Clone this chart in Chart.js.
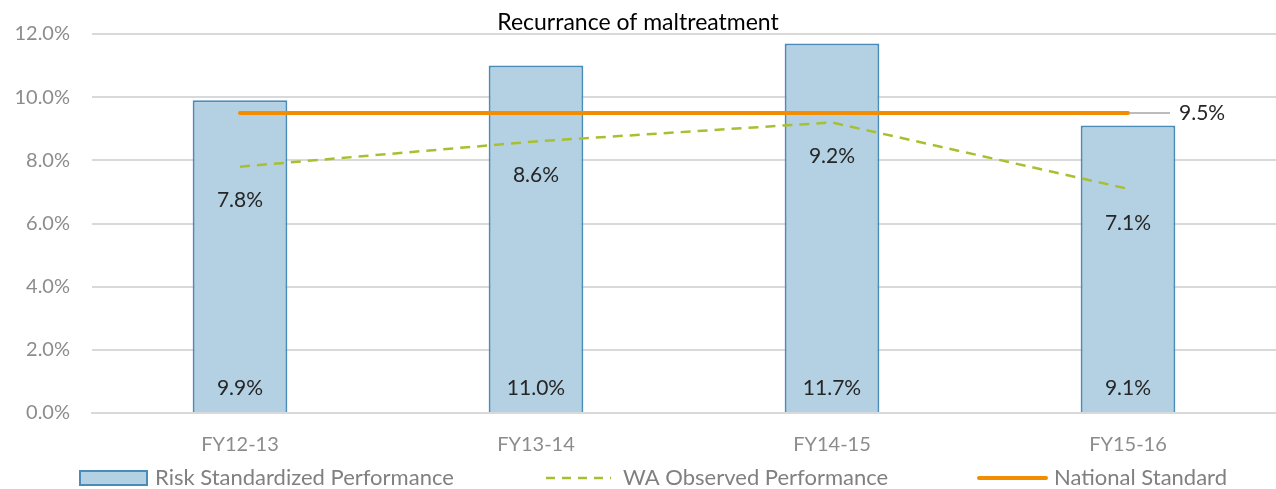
<!DOCTYPE html>
<html>
<head>
<meta charset="utf-8">
<script src="https://cdn.jsdelivr.net/npm/chart.js@4.4.0/dist/chart.umd.min.js"></script>
<style>
    html, body { margin: 0; padding: 0; background: #fff; }
    #wrap { width: 1276px; height: 489px; }
</style>
</head>
<body>
<div id="wrap"><canvas id="maltreatmentChart"></canvas></div>
<script>
const years = ["FY12-13", "FY13-14", "FY14-15", "FY15-16"];
const riskStandardized = [9.9, 11.0, 11.7, 9.1];
const waObserved = [7.8, 8.6, 9.2, 7.1];
const nationalStandard = [9.5, 9.5, 9.5, 9.5];
const yTicks = [0, 2, 4, 6, 8, 10, 12];

const FONT = "Lato, 'Noto Sans', sans-serif";

// labels on bars (at bottom) and under the dashed line points
const valueLabels = {
    id: "valueLabels",
    afterDatasetsDraw(chart) {
        const ctx = chart.ctx;
        const y = chart.scales.y;
        ctx.save();
        ctx.font = "21px " + FONT;
        ctx.fillStyle = "#262626";
        ctx.textAlign = "center";
        ctx.textBaseline = "middle";
        chart.getDatasetMeta(0).data.forEach(function (bar, i) {
            ctx.fillText(riskStandardized[i].toFixed(1) + "%", bar.x, y.getPixelForValue(0) - 25);
        });
        chart.getDatasetMeta(1).data.forEach(function (pt, i) {
            ctx.fillText(waObserved[i].toFixed(1) + "%", pt.x, pt.y + 34);
        });
        // national standard: leader line + label after last point
        const pts = chart.getDatasetMeta(2).data;
        const last = pts[pts.length - 1];
        ctx.strokeStyle = "#a6a6a6";
        ctx.lineWidth = 1.5;
        ctx.beginPath();
        ctx.moveTo(last.x + 2, last.y);
        ctx.lineTo(last.x + 42, last.y);
        ctx.stroke();
        ctx.textAlign = "left";
        ctx.fillText(nationalStandard[nationalStandard.length - 1].toFixed(1) + "%", last.x + 51, last.y);
        ctx.restore();
    }
};

// legend drawn below the axis
const bottomLegend = {
    id: "bottomLegend",
    afterDraw(chart) {
        const ctx = chart.ctx;
        const yMid = 478;
        ctx.save();
        ctx.font = "22px " + FONT;
        ctx.textBaseline = "middle";
        ctx.textAlign = "left";

        // bar swatch
        ctx.fillStyle = "#b3d1e3";
        ctx.fillRect(80, yMid - 7, 67, 14);
        ctx.strokeStyle = "#4a8bb8";
        ctx.lineWidth = 2;
        ctx.strokeRect(80, yMid - 7, 67, 14);
        ctx.fillStyle = "#808080";
        ctx.fillText(chart.data.datasets[0].label, 155, yMid);

        // dashed swatch
        ctx.strokeStyle = "#a8c030";
        ctx.lineWidth = 2.5;
        ctx.setLineDash([9, 7]);
        ctx.beginPath();
        ctx.moveTo(546, yMid);
        ctx.lineTo(611, yMid);
        ctx.stroke();
        ctx.setLineDash([]);
        ctx.fillText(chart.data.datasets[1].label, 623, yMid);

        // solid swatch
        ctx.strokeStyle = "#f28c00";
        ctx.lineWidth = 4;
        ctx.lineCap = "round";
        ctx.beginPath();
        ctx.moveTo(979, yMid);
        ctx.lineTo(1046, yMid);
        ctx.stroke();
        ctx.fillText(chart.data.datasets[2].label, 1054, yMid);
        ctx.restore();
    }
};

const ctx = document.getElementById("maltreatmentChart").getContext("2d");
new Chart(ctx, {
    type: "bar",
    data: {
        labels: years,
        datasets: [
            {
                type: "bar",
                label: "Risk Standardized Performance",
                data: riskStandardized,
                backgroundColor: "#b3d1e3",
                borderColor: "#4a8bb8",
                borderWidth: 2,
                barPercentage: 0.32,
                categoryPercentage: 1.0,
                order: 3,
            },
            {
                type: "line",
                label: "WA Observed Performance",
                data: waObserved,
                borderColor: "#a8c030",
                borderWidth: 2.5,
                borderDash: [10, 7],
                pointRadius: 0,
                fill: false,
                tension: 0,
                order: 2,
            },
            {
                type: "line",
                label: "National Standard",
                data: nationalStandard,
                borderColor: "#f28c00",
                borderWidth: 4,
                borderCapStyle: "round",
                pointRadius: 0,
                fill: false,
                order: 1,
            },
        ],
    },
    options: {
        responsive: true,
        maintainAspectRatio: false,
        animation: false,
        layout: { padding: { left: 0, right: 0, top: 0, bottom: 0 } },
        plugins: {
            legend: { display: false },
            tooltip: { enabled: false },
            title: {
                display: true,
                text: "Recurrance of maltreatment",
                color: "#000",
                font: { family: FONT, size: 23, weight: "normal", lineHeight: 1.0 },
                padding: { top: 9, bottom: 0 },
            },
        },
        scales: {
            x: {
                grid: { display: false, drawTicks: false },
                border: { color: "#d9d9d9", width: 2 },
                ticks: {
                    color: "#8c8c8c",
                    font: { family: FONT, size: 20 },
                    padding: 20,
                },
                afterFit(scale) { scale.height = 76; },
            },
            y: {
                min: 0,
                max: 12,
                afterBuildTicks(scale) {
                    scale.ticks = yTicks.map(function (v) { return { value: v }; });
                },
                grid: { color: "#d9d9d9", lineWidth: 2, drawTicks: false },
                border: { display: false },
                ticks: {
                    color: "#8c8c8c",
                    font: { family: FONT, size: 20 },
                    padding: 22,
                    callback: function (v) { return v.toFixed(1) + "%"; },
                },
                afterFit(scale) { scale.width = 92; },
            },
        },
    },
    plugins: [valueLabels, bottomLegend],
});
</script>
</body>
</html>
